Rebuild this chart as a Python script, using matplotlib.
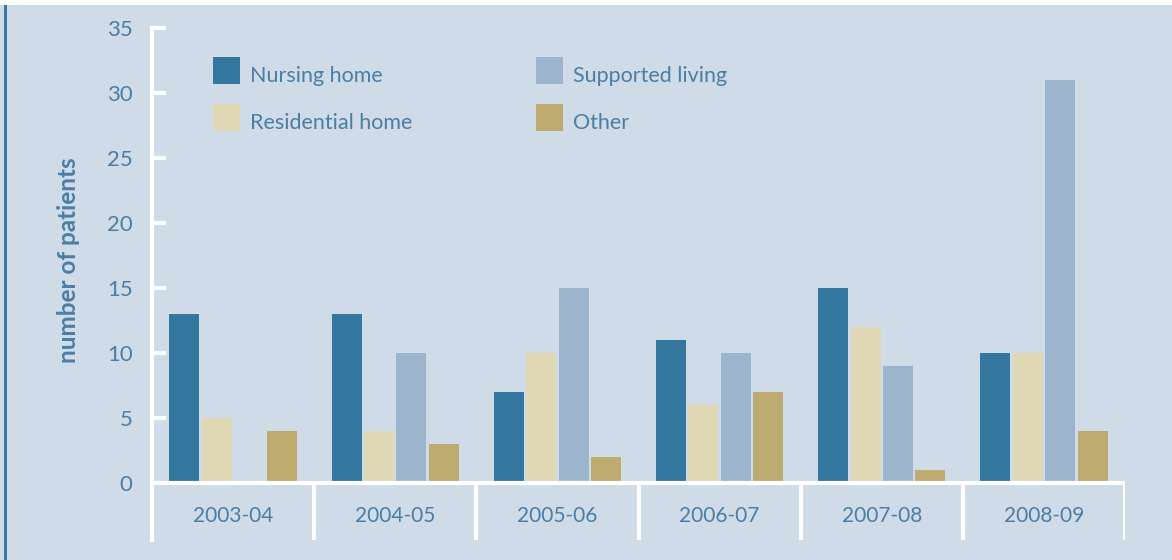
import matplotlib
matplotlib.use("Agg")
import matplotlib.pyplot as plt
from matplotlib.patches import Rectangle

years = ["2003-04", "2004-05", "2005-06", "2006-07", "2007-08", "2008-09"]
series_names = ["Nursing home", "Residential home", "Supported living", "Other"]
nursing = [13, 13, 7, 11, 15, 10]
residential = [5, 4, 10, 6, 12, 10]
supported = [0, 10, 15, 10, 9, 31]
other = [4, 3, 2, 7, 1, 4]
y_ticks = [0, 5, 10, 15, 20, 25, 30, 35]

colors = ["#33769e", "#e0d8b5", "#9db5cc", "#bdab6f"]
bg = "#cfdbe6"
txt = "#4a7ea6"

W, H = 1172, 560
plt.rcParams["font.family"] = ["Lato", "DejaVu Sans"]
fig = plt.figure(figsize=(W / 100, H / 100), dpi=100)
fig.patch.set_facecolor(bg)


def fx(px):
    return px / W


def fy(py):
    return 1 - py / H


# white strip across the top and blue rule at the left edge
fig.add_artist(Rectangle((0, fy(5)), 1, 5 / H, transform=fig.transFigure,
                         facecolor="white", edgecolor="none"))
fig.add_artist(Rectangle((fx(4), 0), 3 / W, fy(5), transform=fig.transFigure,
                         facecolor="#3a78a8", edgecolor="none"))

left, right, top, bottom, zero = 152, 1125, 28, 540, 483
ax = fig.add_axes([fx(left), fy(bottom), (right - left) / W, (bottom - top) / H])
ax.set_facecolor(bg)

ymin = -(bottom - zero) / ((zero - top) / 35)
ax.set_ylim(ymin, 35)
ax.set_xlim(-0.5, len(years) - 0.5)

bw = 0.185
step = 0.2
all_series = [nursing, residential, supported, other]
for k, (vals, c) in enumerate(zip(all_series, colors)):
    xs = [i + (k - 1.5) * step for i in range(len(years))]
    ax.bar(xs, vals, width=bw, color=c, zorder=2)

# baseline and category separators
ax.axhline(0, color="white", lw=3, zorder=3)
for b in range(len(years) + 1):
    ax.plot([b - 0.5, b - 0.5], [ymin, 0], color="white", lw=3, zorder=3,
            solid_capstyle="butt")

for s in ["top", "right", "bottom"]:
    ax.spines[s].set_visible(False)
ax.spines["left"].set_color("white")
ax.spines["left"].set_linewidth(3)
ax.set_yticks(y_ticks)
ax.set_yticklabels([str(v) for v in y_ticks])
ax.tick_params(axis="y", direction="in", length=10, width=3, color="white",
               labelcolor=txt, labelsize=16, pad=14)
ax.set_xticks([])

for i, yr in enumerate(years):
    ax.text(i, -2.55, yr, ha="center", va="center", color=txt, fontsize=15)

fig.text(fx(68), fy(260), "number of patients", rotation=90, ha="center",
         va="center", color=txt, fontsize=17.5, fontweight="bold")

# legend: two columns of colour squares with labels
legend_spots = [(213, 57), (213, 104), (536, 57), (536, 104)]
for (px, py), c, name in zip(legend_spots, colors, series_names):
    fig.add_artist(Rectangle((fx(px), fy(py + 27)), 27 / W, 27 / H,
                             transform=fig.transFigure, facecolor=c,
                             edgecolor="none"))
    fig.text(fx(px + 37), fy(py + 19), name, ha="left", va="center",
             color=txt, fontsize=15.5)

fig.savefig("out.png", dpi=100, facecolor=bg)
